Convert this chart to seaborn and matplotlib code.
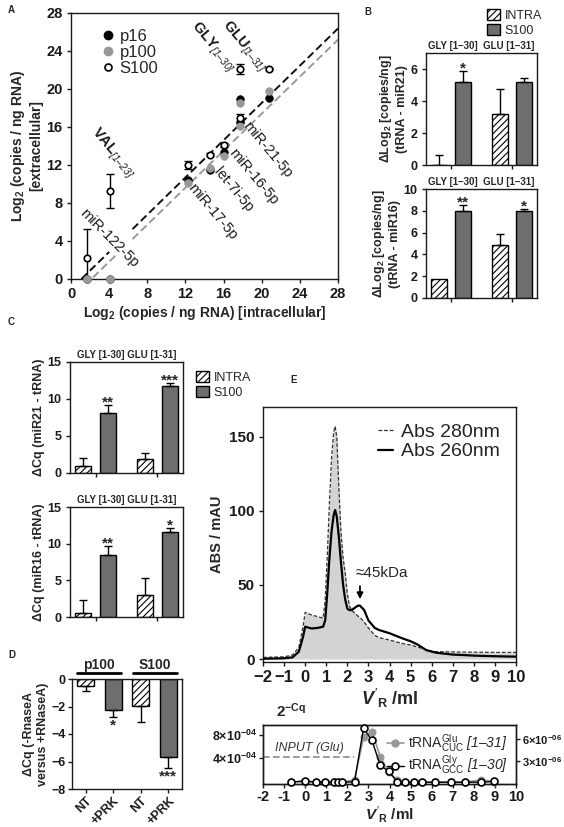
import matplotlib
matplotlib.use("Agg")
import matplotlib.pyplot as plt
import matplotlib.transforms as mtransforms
from matplotlib.lines import Line2D
from matplotlib.patches import Patch
import numpy as np
import pandas as pd
import seaborn as sns

W, H = 564, 827

# ---- A: intracellular vs extracellular log2 copies
a_names = ["miR-122-5p", "VAL", "miR-17-5p", "let-7i-5p", "miR-16-5p", "miR-21-5p", "GLY", "GLU"]
a_intra = [1.7, 4.1, 12.3, 14.6, 16.0, 17.7, 17.7, 20.8]
a_p16 = [0.0, 0.0, 10.4, 11.5, 13.4, 16.5, 18.9, 19.1]
a_p100 = [0.0, 0.0, 10.1, 11.7, 13.0, 16.1, 18.5, 19.75]
a_s100 = [2.2, 9.3, 12.0, 13.1, 14.1, 16.9, 22.1, 22.1]
a_s100_err_up = [3.1, 1.8, 0.4, 0.15, 0.2, 0.45, 0.55, 0.15]
a_s100_err_dn = [2.2, 1.8, 0.4, 0.15, 0.2, 0.45, 0.55, 0.15]
fit_s100 = (0.98, -1.07)   # slope, intercept (black dashed)
fit_p100 = (0.974, -2.08)  # slope, intercept (grey dashed)

# ---- B: delta log2 tRNA vs miRNA
b21_intra = [0.0, 3.2]
b21_intra_err = [0.6, 1.55]
b21_s100 = [5.2, 5.2]
b21_s100_err = [0.65, 0.25]
b21_stars = ["*", ""]
b16_intra = [1.7, 4.9]
b16_intra_err = [0.0, 0.95]
b16_s100 = [8.0, 8.0]
b16_s100_err = [0.5, 0.2]
b16_stars = ["**", "*"]

# ---- C: delta Cq
c21_intra = [1.0, 1.9]
c21_intra_err = [1.0, 0.8]
c21_s100 = [8.1, 11.7]
c21_s100_err = [1.1, 0.4]
c21_stars = ["**", "***"]
c16_intra = [0.5, 3.0]
c16_intra_err = [1.8, 2.3]
c16_s100 = [8.4, 11.6]
c16_s100_err = [1.3, 0.5]
c16_stars = ["**", "*"]

# ---- D: RNase A protection
d_group = ["p100", "p100", "S100", "S100"]
d_treat = ["NT", "+PRK", "NT", "+PRK"]
d_val = [-0.5, -2.25, -1.95, -5.7]
d_err = [0.4, 0.5, 1.15, 0.8]
d_stars = ["", "*", "", "***"]

# ---- E: size exclusion chromatogram
e_vol = [-2, -1, -0.6, -0.3, -0.1, 0, 0.3, 0.6, 0.85, 0.95, 1.05, 1.15, 1.25, 1.35,
         1.42, 1.5, 1.6, 1.7, 1.8, 1.9, 2.0, 2.1, 2.2, 2.35, 2.5, 2.6, 2.8, 3.0, 3.3,
         3.5, 4.0, 4.6, 5.0, 5.3, 5.75, 6.0, 6.2, 7.0, 7.5, 8, 9, 10]
e_abs280 = [1.1, 1.5, 2.7, 7.8, 21.8, 31.5, 29.7, 28.6, 27.5, 40, 70, 105, 135, 153,
            157, 150, 115, 85, 68, 58, 44, 36, 33, 31, 29, 28, 25, 21, 16,
            14.5, 12.8, 10.5, 9.5, 8.2, 6.2, 5.4, 5.0, 4.8, 4.7, 4.6, 4.5, 4.5]
e_abs260 = [0.2, 0.5, 1.1, 5, 15, 21.8, 20.6, 21.0, 21.8, 26, 45, 68, 86, 97,
            100.5, 96, 82, 65, 50, 40, 34, 33, 33, 34.5, 36, 36, 33, 26, 21,
            19.6, 17.4, 14, 12, 10, 6, 5, 4.3, 3.0, 2.7, 2.3, 1.9, 1.6]

# fractions (qPCR)
f_vol = [-0.66, -0.03, 0.53, 0.95, 1.36, 1.55, 1.74, 2.34, 2.77, 3.17, 3.56, 3.96,
         4.37, 4.75, 5.14, 5.54, 6.14, 6.93, 7.56, 8.35, 8.95]
f_glu = [0.0, 0.1e-4, 0.0, 0.0, 0.0, 0.0, 0.0, 0.4e-4, 7.6e-4, 8.5e-4, 4.3e-4, 1.7e-4,
         0.4e-4, 0.1e-4, 0.0, 0.0, 0.0, 0.0, 0.0, 0.4e-4, 0.1e-4]
f_gly = [0.0, 0.2e-6, 0.0, 0.0, 0.0, 0.0, 0.0, 0.05e-6, 7.5e-6, 5.8e-6, 2.35e-6, 1.5e-6,
         0.05e-6, 0.0, 0.0, 0.0, 0.0, 0.0, 0.0, 0.0, 0.1e-6]
f_input_glu = 4.2e-4

GREY = "#6e6e6e"
LIGHT = "#989898"

sns.set_theme(style="ticks")
plt.rcParams["font.family"] = ["Liberation Sans", "DejaVu Sans"]
plt.rcParams.update({
    "mathtext.fontset": "custom",
    "mathtext.rm": "Liberation Sans",
    "mathtext.bf": "Liberation Sans:bold",
    "mathtext.it": "Liberation Sans:bold:italic",
    "mathtext.sf": "Liberation Sans:italic",
    "hatch.linewidth": 0.8,
})


def px_axes(fig, left, top, right, bottom):
    return fig.add_axes([left / W, 1 - bottom / H, (right - left) / W, (bottom - top) / H])


def style_axes(ax, size_x, size_y=None, pad=3):
    size_y = size_y or size_x
    ax.tick_params(axis="x", labelsize=size_x, direction="out", length=3, width=1,
                   colors="#1a1a1a", pad=pad)
    ax.tick_params(axis="y", labelsize=size_y, direction="out", length=3, width=1,
                   colors="#1a1a1a", pad=pad)
    for lab in ax.get_xticklabels() + ax.get_yticklabels():
        lab.set_fontweight("bold")
    for sp in ax.spines.values():
        sp.set_visible(True)
        sp.set_linewidth(1)
        sp.set_color("#1a1a1a")


def bar_panel(ax, intra, intra_err, s100, s100_err, stars, title, ylabel, ylim, yticks):
    df = pd.DataFrame({
        "tRNA": ["GLY", "GLU"] * 2,
        "frac": ["INTRA"] * 2 + ["S100"] * 2,
        "val": list(intra) + list(s100),
    })
    sns.barplot(data=df, x="tRNA", y="val", hue="frac", hue_order=["INTRA", "S100"],
                palette=["white", GREY], width=0.8, gap=0.35, edgecolor="black",
                linewidth=1, errorbar=None, legend=False, ax=ax)
    errs = [intra_err, s100_err]
    marks = [["", ""], stars]
    span = ylim[1] - ylim[0]
    bar_sets = [list(c) for c in ax.containers]
    for k, bars in enumerate(bar_sets):
        for bar in bars:
            xc = bar.get_x() + bar.get_width() / 2
            i = int(round(xc))
            h = bar.get_height()
            e = errs[k][i]
            if k == 0:
                bar.set_hatch("/////")
            if e > 0:
                ax.errorbar(xc, h, yerr=[[0], [e]], fmt="none", ecolor="black",
                            elinewidth=1, capsize=3, capthick=1)
            if marks[k][i]:
                ax.text(xc, h + e - 0.04 * span, marks[k][i], ha="center", va="bottom",
                        fontsize=11, fontweight="bold")
    ax.set_ylim(*ylim)
    ax.set_yticks(yticks)
    ax.set_xticks([0, 1])
    ax.set_xticklabels([])
    ax.set_xlabel("")
    ax.set_ylabel(ylabel, fontsize=9, fontweight="bold", labelpad=2)
    ax.set_title(title, fontsize=7, fontweight="bold", pad=3)
    style_axes(ax, 9)


fig = plt.figure(figsize=(W / 100, H / 100), dpi=100)

# ================= A =================
axA = px_axes(fig, 71, 13, 338, 279)
for (slope, icpt), col, segs in [
    (fit_s100, "#111111", [(1.1, 4.0), (6.45, 28)]),
    (fit_p100, "#9a9a9a", [(2.3, 4.7), (6.45, 28)]),
]:
    for lo, hi in segs:
        xs = np.array([lo, hi])
        axA.plot(xs, slope * xs + icpt, ls=(0, (4, 2)), color=col, lw=1.4, zorder=1)

axA.errorbar(a_intra, a_s100, yerr=[a_s100_err_dn, a_s100_err_up], fmt="none",
             ecolor="black", elinewidth=1, capsize=3, capthick=1, zorder=2)
sns.scatterplot(x=a_intra, y=a_p16, color="black", s=30, edgecolor="black",
                linewidth=0.5, ax=axA, zorder=3, clip_on=False)
sns.scatterplot(x=a_intra, y=a_p100, color=LIGHT, s=30, edgecolor=LIGHT,
                linewidth=0.5, ax=axA, zorder=3, clip_on=False)
sns.scatterplot(x=a_intra, y=a_s100, color="white", s=22, edgecolor="black",
                linewidth=1.2, ax=axA, zorder=4, clip_on=False)
axA.set_xlim(0, 28)
axA.set_ylim(0, 28)
axA.set_xticks(range(0, 29, 4))
axA.set_yticks(range(0, 29, 4))
axA.set_xlabel(r"Log$_\mathbf{2}$ (copies / ng RNA) [intracellular]",
               fontsize=10, fontweight="bold", labelpad=2)
axA.set_ylabel("Log$_\\mathbf{2}$ (copies / ng RNA)\n[extracellular]",
               fontsize=10, fontweight="bold", labelpad=2)
style_axes(axA, 10.5)

rot_labels = [
    ("miR-122-5p", 4.0, 4.3, -45, "normal"),
    ("miR-17-5p", 14.8, 7.1, -50, "normal"),
    ("let-7i-5p", 17.0, 9.4, -50, "normal"),
    ("miR-16-5p", 19.1, 10.8, -50, "normal"),
    ("miR-21-5p", 20.6, 13.6, -50, "normal"),
    (r"VAL$_{\mathsf{[1–23]}}$", 4.3, 13.3, -50, "bold"),
    (r"GLY$_{\mathsf{[1–30]}}$", 14.8, 24.4, -50, "bold"),
    (r"GLU$_{\mathsf{[1–31]}}$", 18.1, 24.4, -50, "bold"),
]
for txt, x, y, rot, wt in rot_labels:
    axA.text(x, y, txt, rotation=rot, rotation_mode="anchor", ha="center", va="center",
             fontsize=10.5, fontweight=wt, color="#1a1a1a")

handles = [
    Line2D([], [], ls="", marker="o", color="black", ms=6, label="p16"),
    Line2D([], [], ls="", marker="o", color=LIGHT, ms=6, label="p100"),
    Line2D([], [], ls="", marker="o", mfc="white", mec="black", mew=1.2, ms=5, label="S100"),
]
axA.legend(handles=handles, loc="upper left", bbox_to_anchor=(0.07, 0.97), frameon=False,
           fontsize=12, handletextpad=0.1, labelspacing=0.05, borderpad=0, handlelength=1.2)

# ================= B =================
axB1 = px_axes(fig, 426, 53, 537, 165)
bar_panel(axB1, b21_intra, b21_intra_err, b21_s100, b21_s100_err, b21_stars,
          "GLY [1–30]  GLU [1–31]", "ΔLog$_\\mathbf{2}$ [copies/ng]\n(tRNA - miR21)",
          (0, 7), [0, 2, 4, 6])
axB2 = px_axes(fig, 426, 189, 537, 298)
bar_panel(axB2, b16_intra, b16_intra_err, b16_s100, b16_s100_err, b16_stars,
          "GLY [1–30]  GLU [1–31]", "ΔLog$_\\mathbf{2}$ [copies/ng]\n(tRNA - miR16)",
          (0, 10), [0, 2, 4, 6, 8, 10])

leg_handles = [Patch(facecolor="white", edgecolor="black", hatch="/////", label="INTRA"),
               Patch(facecolor=GREY, edgecolor="black", label="S100")]
for bx, by in [(481, 3), (190, 365)]:
    fig.legend(handles=leg_handles, loc="upper left", bbox_to_anchor=(bx / W, 1 - by / H),
               frameon=False, fontsize=9, handlelength=1.0, handleheight=1.0,
               handletextpad=0.4, labelspacing=0.15, borderpad=0)

# ================= C =================
axC1 = px_axes(fig, 70, 362, 183, 473)
bar_panel(axC1, c21_intra, c21_intra_err, c21_s100, c21_s100_err, c21_stars,
          "GLY [1-30] GLU [1-31]", "ΔCq (miR21 - tRNA)", (0, 15), [0, 5, 10, 15])
axC2 = px_axes(fig, 70, 507, 183, 617)
bar_panel(axC2, c16_intra, c16_intra_err, c16_s100, c16_s100_err, c16_stars,
          "GLY [1-30] GLU [1-31]", "ΔCq (miR16 - tRNA)", (0, 15), [0, 5, 10, 15])

# ================= D =================
axD = px_axes(fig, 72, 679, 182, 789)
d_df = pd.DataFrame({"cond": [g + " " + t for g, t in zip(d_group, d_treat)],
                     "treat": d_treat, "val": d_val})
sns.barplot(data=d_df, x="cond", y="val", hue="treat", hue_order=["NT", "+PRK"],
            palette=["white", GREY], dodge=False, width=0.62, edgecolor="black",
            linewidth=1, errorbar=None, legend=False, ax=axD)
d_bars = [bar for cont in axD.containers for bar in cont]
for bar in d_bars:
    xc = bar.get_x() + bar.get_width() / 2
    i = int(round(xc))
    if d_treat[i] == "NT":
        bar.set_hatch("/////")
    axD.errorbar(xc, d_val[i], yerr=[[d_err[i]], [0]], fmt="none", ecolor="black",
                 elinewidth=1, capsize=3, capthick=1)
    if d_stars[i]:
        axD.text(xc, d_val[i] - d_err[i] - 0.1, d_stars[i], ha="center", va="top",
                 fontsize=11, fontweight="bold")
axD.set_ylim(-8, 0)
axD.set_yticks([0, -2, -4, -6, -8])
axD.set_xticks(range(4))
axD.set_xticklabels(d_treat, rotation=45, ha="right", rotation_mode="anchor")
axD.set_xlabel("")
axD.set_ylabel("ΔCq (-RnaseA\nversus +RNaseA)", fontsize=9, fontweight="bold", labelpad=2)
style_axes(axD, 9, 9, pad=1.5)
trD = mtransforms.blended_transform_factory(axD.transData, axD.transAxes)
for grp, x0 in [("p100", 0.5), ("S100", 2.5)]:
    axD.plot([x0 - 0.8, x0 + 0.8], [1.055, 1.055], color="black", lw=2,
             transform=trD, clip_on=False)
    axD.text(x0, 1.065, grp, ha="center", va="bottom", fontsize=10, fontweight="bold",
             transform=trD)

# ================= E (chromatogram) =================
axE = px_axes(fig, 263, 407, 516, 662)
axE.fill_between(e_vol, e_abs280, color="#d3d3d3", lw=0, zorder=1)
sns.lineplot(x=e_vol, y=e_abs280, ax=axE, color="#333333", lw=0.9,
             linestyle=(0, (3, 1.5)), zorder=2)
sns.lineplot(x=e_vol, y=e_abs260, ax=axE, color="black", lw=1.6, zorder=3)
axE.set_xlim(-2, 10)
axE.set_ylim(-2, 170)
axE.set_xticks(range(-2, 11))
axE.set_yticks([0, 50, 100, 150])
axE.set_xlabel(r"$\mathit{V}'_\mathbf{R}$ /ml", fontsize=13, fontweight="bold", labelpad=1)
axE.set_ylabel("ABS / mAU", fontsize=10.5, fontweight="bold", labelpad=4)
style_axes(axE, 12, 11)
axE.annotate("", xy=(2.6, 38.5), xytext=(2.6, 51),
             arrowprops=dict(arrowstyle="-|>", color="black", lw=1.3, mutation_scale=9))
axE.text(2.4, 53, "≈45kDa", fontsize=11, ha="left", va="bottom")
e_handles = [Line2D([], [], color="#333333", lw=0.9, ls=(0, (3, 1.5)), label="Abs 280nm"),
             Line2D([], [], color="black", lw=1.6, label="Abs 260nm")]
axE.legend(handles=e_handles, loc="upper right", bbox_to_anchor=(0.99, 0.99),
           frameon=False, fontsize=14, handlelength=0.8, handletextpad=0.4,
           labelspacing=0.1, borderpad=0.2)

# ================= E (fractions qPCR) =================
axF = px_axes(fig, 263, 725, 516, 784)
axF2 = axF.twinx()
axF.plot([-2, 2.3], [f_input_glu, f_input_glu], ls=(0, (4, 2)), color="#8a8a8a", lw=1.2)
axF.text(-1.45, f_input_glu + 0.6e-4, "INPUT (Glu)", fontsize=9, fontstyle="italic",
         color="#333333", ha="left", va="bottom")
sns.lineplot(x=f_vol, y=f_glu, ax=axF, color=LIGHT, lw=1.2, marker="o", ms=5,
             mec=LIGHT, clip_on=False, zorder=3)
sns.lineplot(x=f_vol, y=f_gly, ax=axF2, color="black", lw=1.0, marker="o", ms=5,
             mfc="white", mec="black", mew=1.2, clip_on=False, zorder=4)
axF.set_xlim(-2, 10)
axF.set_ylim(-0.3e-4, 9.6e-4)
axF2.set_ylim(-0.25e-6, 7.95e-6)
axF.set_xticks(range(-2, 11))
axF.set_xticklabels([str(v) for v in range(-2, 11)])
axF.set_yticks([4e-4, 8e-4])
axF.set_yticklabels([r"$\mathbf{4{\times}10^{-04}}$", r"$\mathbf{8{\times}10^{-04}}$"])
axF2.set_yticks([3e-6, 6e-6])
axF2.set_yticklabels([r"$\mathbf{3{\times}10^{-06}}$", r"$\mathbf{6{\times}10^{-06}}$"])
axF.set_xlabel(r"$\mathit{V}'_\mathbf{R}$ /ml", fontsize=11, fontweight="bold", labelpad=0)
axF.set_ylabel("")
axF2.set_ylabel("")
style_axes(axF, 10.5, 9, pad=1.5)
style_axes(axF2, 10.5, 8, pad=1.5)
axF.text(0.05, 1.08, r"2$^{\mathbf{-Cq}}$", transform=axF.transAxes, fontsize=11,
         fontweight="bold", ha="left", va="bottom")
f_handles = [
    Line2D([], [], color=LIGHT, lw=1.2, marker="o", ms=5, mec=LIGHT,
           label=r"tRNA$^{\mathrm{Glu}}_{\mathrm{CUC}}$ $\mathsf{[1–31]}$"),
    Line2D([], [], color="black", lw=1.0, marker="o", ms=5, mfc="white", mec="black",
           mew=1.2, label=r"tRNA$^{\mathrm{Gly}}_{\mathrm{GCC}}$ $\mathsf{[1–30]}$"),
]
axF2.legend(handles=f_handles, loc="upper right", bbox_to_anchor=(1.0, 1.02),
            frameon=False, fontsize=10, handlelength=1.2, handletextpad=0.3,
            labelspacing=0.0, borderpad=0.1)

# panel letters
for letter, x, y in [("A", 8, 10), ("B", 364, 12), ("C", 8, 322), ("D", 8, 655), ("E", 290, 380)]:
    fig.text(x / W, 1 - y / H, letter, fontsize=7, fontweight="bold", ha="left", va="center")

fig.savefig("out.png", dpi=100)
